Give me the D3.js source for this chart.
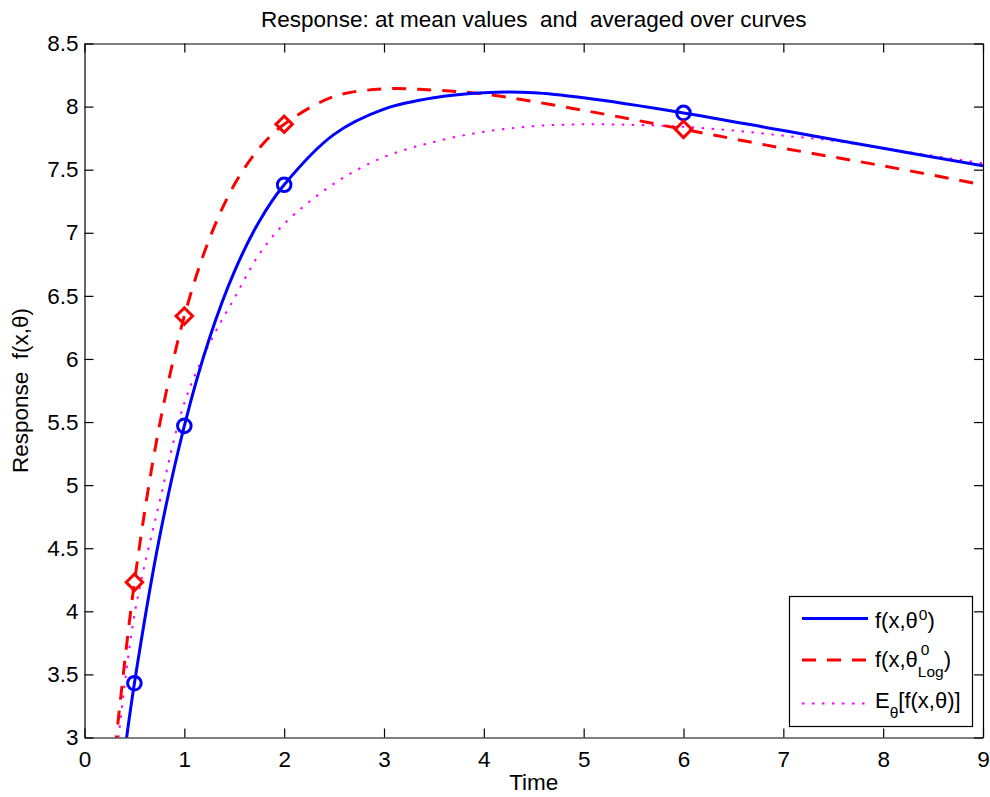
<!DOCTYPE html>
<html>
<head>
<meta charset="utf-8">
<script src="https://cdn.jsdelivr.net/npm/d3@7/dist/d3.min.js"></script>
<style>
    body { margin: 0; background: #fff; }
    svg text { font-family: "Liberation Sans", Arial, Helvetica, sans-serif; fill: #000; }
</style>
</head>
<body>
<svg id="graph" width="990" height="797"></svg>
<script>
// axis ticks
var xTicks = [0, 1, 2, 3, 4, 5, 6, 7, 8, 9];
var yTicks = [3, 3.5, 4, 4.5, 5, 5.5, 6, 6.5, 7, 7.5, 8, 8.5];

// f(x, theta0) - solid blue
var blueT = [0.40, 0.5, 0.75, 1, 1.25, 1.5, 1.75, 2, 2.5, 3, 3.5, 4, 4.5, 5, 6, 7, 8, 9];
var blueY = [2.87, 3.43, 4.58, 5.47, 6.16, 6.69, 7.09, 7.38, 7.78, 7.98, 8.07, 8.11, 8.11, 8.07, 7.95, 7.81, 7.67, 7.53];

// f(x, theta0_Log) - dashed red
var redT = [0.28, 0.5, 0.75, 1, 1.25, 1.5, 1.75, 2, 2.5, 3, 3.5, 4, 5, 6, 7, 8, 9];
var redY = [2.71, 4.23, 5.47, 6.34, 6.95, 7.38, 7.67, 7.86, 8.08, 8.14, 8.13, 8.10, 7.97, 7.82, 7.67, 7.53, 7.38];

// E_theta[f(x, theta)] - dotted magenta
var magT = [0.33, 0.5, 0.75, 1, 1.25, 1.5, 1.75, 2, 2.5, 3, 3.5, 4, 4.5, 5, 5.5, 6, 6.5, 7, 7.5, 8, 8.5, 9];
var magY = [2.92, 3.97, 4.86, 5.65, 6.12, 6.48, 6.83, 7.07, 7.39, 7.60, 7.72, 7.80, 7.845, 7.86, 7.855, 7.84, 7.81, 7.77, 7.73, 7.67, 7.61, 7.55];

// sampling times with markers
var markT = [0.5, 1, 2, 6];
var blueMark = [3.43, 5.47, 7.38, 7.95];
var redMark = [4.23, 6.34, 7.86, 7.82];

var margin = { top: 43.5, right: 7, bottom: 59.5, left: 84.5 },
    width = 990 - margin.left - margin.right,
    height = 797 - margin.top - margin.bottom;

var svg = d3.select("#graph");
var graph = svg.append("g")
    .attr("transform", "translate(" + margin.left + "," + margin.top + ")");

var x = d3.scaleLinear().domain([0, 9]).range([0, width]),
    y = d3.scaleLinear().domain([3, 8.5]).range([height, 0]);

function zip(ts, vs) {
    return ts.map(function (t, i) { return { t: t, v: vs[i] }; });
}

svg.append("defs").append("clipPath")
    .attr("id", "plotclip")
    .append("rect")
    .attr("width", width)
    .attr("height", height);

var line = d3.line()
    .curve(d3.curveCatmullRom.alpha(0.5))
    .x(function (d) { return x(d.t); })
    .y(function (d) { return y(d.v); });

var curves = graph.append("g").attr("clip-path", "url(#plotclip)");

curves.append("path")
    .attr("d", line(zip(magT, magY)))
    .attr("fill", "none")
    .attr("stroke", "#ff00ff")
    .attr("stroke-width", 2)
    .attr("stroke-dasharray", "2.5,7.5");

curves.append("path")
    .attr("d", line(zip(redT, redY)))
    .attr("fill", "none")
    .attr("stroke", "#ff0000")
    .attr("stroke-width", 3)
    .attr("stroke-dasharray", "14,11");

curves.append("path")
    .attr("d", line(zip(blueT, blueY)))
    .attr("fill", "none")
    .attr("stroke", "#0000ff")
    .attr("stroke-width", 3);

// markers
graph.selectAll(".circ")
    .data(zip(markT, blueMark))
    .enter().append("circle")
    .attr("cx", function (d) { return x(d.t); })
    .attr("cy", function (d) { return y(d.v); })
    .attr("r", 6.8)
    .attr("fill", "none")
    .attr("stroke", "#0000ff")
    .attr("stroke-width", 3);

var diamond = d3.symbol().type(d3.symbolSquare).size(135);
graph.selectAll(".diam")
    .data(zip(markT, redMark))
    .enter().append("path")
    .attr("d", diamond)
    .attr("transform", function (d) { return "translate(" + x(d.t) + "," + y(d.v) + ") rotate(45)"; })
    .attr("fill", "none")
    .attr("stroke", "#ff0000")
    .attr("stroke-width", 3);

// axes, ticks pointing inward
function styleAxis(g) {
    g.selectAll("path").attr("stroke", "#000").attr("stroke-width", 1.2);
    g.selectAll("line").attr("stroke", "#000").attr("stroke-width", 1.2);
    g.selectAll("text")
        .attr("fill", "#000")
        .style("font-family", '"Liberation Sans", Arial, sans-serif')
        .style("font-size", "22.5px");
}

graph.append("g")
    .attr("transform", "translate(0," + height + ")")
    .call(d3.axisBottom(x).tickValues(xTicks).tickSizeInner(-9).tickSizeOuter(0).tickPadding(14)
        .tickFormat(function (d) { return String(d); }))
    .call(styleAxis);

graph.append("g")
    .call(d3.axisLeft(y).tickValues(yTicks).tickSizeInner(-9).tickSizeOuter(0).tickPadding(6)
        .tickFormat(function (d) { return String(d); }))
    .call(styleAxis);

graph.append("g")
    .call(d3.axisTop(x).tickValues(xTicks).tickSizeInner(-9).tickSizeOuter(0).tickFormat(""))
    .call(styleAxis);

graph.append("g")
    .attr("transform", "translate(" + width + ",0)")
    .call(d3.axisRight(y).tickValues(yTicks).tickSizeInner(-9).tickSizeOuter(0).tickFormat(""))
    .call(styleAxis);

// titles
graph.append("text")
    .attr("x", width / 2)
    .attr("y", -17)
    .attr("text-anchor", "middle")
    .style("font-size", "22.5px")
    .style("white-space", "pre")
    .text("Response: at mean values  and  averaged over curves");

graph.append("text")
    .attr("x", width / 2)
    .attr("y", height + 52)
    .attr("text-anchor", "middle")
    .style("font-size", "22.5px")
    .text("Time");

graph.append("text")
    .attr("transform", "translate(" + (27.5 - margin.left) + "," + (height / 2) + ") rotate(-90)")
    .attr("text-anchor", "middle")
    .style("font-size", "22.5px")
    .style("white-space", "pre")
    .text("Response  f(x,\u03b8)");

// legend
var lg = svg.append("g").attr("transform", "translate(789.5,596.5)");
lg.append("rect")
    .attr("width", 183)
    .attr("height", 130)
    .attr("fill", "#fff")
    .attr("stroke", "#000")
    .attr("stroke-width", 1.2);

var rows = [
    { y: 22, color: "#0000ff", w: 3, dash: null },
    { y: 63.5, color: "#ff0000", w: 3, dash: "14,11" },
    { y: 107, color: "#ff00ff", w: 2, dash: "2.5,7.5" }
];
rows.forEach(function (r) {
    lg.append("line")
        .attr("x1", 12.5).attr("x2", 78.5)
        .attr("y1", r.y).attr("y2", r.y)
        .attr("stroke", r.color)
        .attr("stroke-width", r.w)
        .attr("stroke-dasharray", r.dash);
});

function txt(xp, yp, s, size) {
    var t = lg.append("text")
        .attr("x", xp).attr("y", yp)
        .style("font-size", size + "px")
        .text(s);
    return t.node().getComputedTextLength();
}

var tx = 85.5;
// row 1: f(x,θ^0)
var w1 = txt(tx, 31.5, "f(x,\u03b8", 22);
var ws = txt(tx + w1 + 1, 23, "0", 15.5);
txt(tx + w1 + ws + 1, 31.5, ")", 22);

// row 2: f(x,θ^0_Log)
var w2 = txt(tx, 70.5, "f(x,\u03b8", 22);
var wa = txt(tx + w2 + 3, 58.5, "0", 15.5);
var wb = txt(tx + w2, 80, "Log", 15.5);
txt(tx + w2 + Math.max(wa + 3, wb), 70.5, ")", 22);

// row 3: E_θ[f(x,θ)]
var w3 = txt(tx, 111.5, "E", 22);
var wt = txt(tx + w3, 121.5, "\u03b8", 15.5);
txt(tx + w3 + wt, 111.5, "[f(x,\u03b8)]", 22);
</script>
</body>
</html>
